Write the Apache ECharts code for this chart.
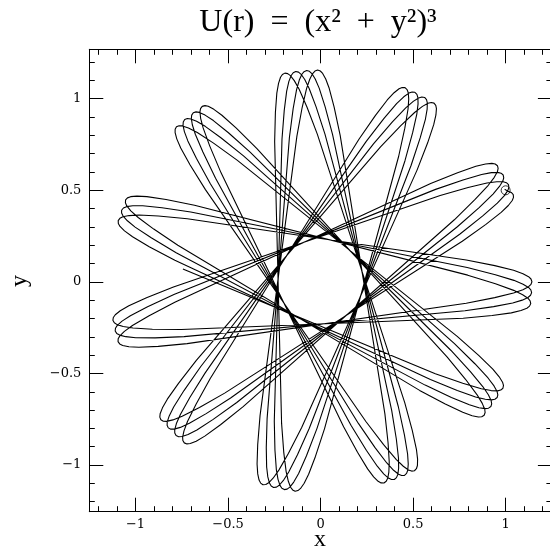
<!DOCTYPE html>
<html><head><meta charset="utf-8">
<script src="https://cdn.jsdelivr.net/npm/echarts@6/dist/echarts.min.js"></script>
<style>html,body{margin:0;padding:0;background:#fff}#c{width:550px;height:551px}</style>
</head><body><div id="c"></div>
<script>
// Apex (turning point) angles of the orbit, degrees, in the order they are visited
const apexAngle = [329.63, 133.00, 296.36, 99.73, 263.09, 66.46, 229.83, 33.19, 196.56, 359.92, 163.29,
                   326.66, 130.02, 293.39, 96.75, 260.12, 63.49, 226.85, 30.22, 193.58, 356.95, 160.32,
                   323.68, 127.05, 290.41, 93.78, 257.15, 60.51, 223.88, 27.24, 190.61, 353.98, 157.34,
                   320.71, 124.07, 287.44, 90.81, 254.17, 57.54, 220.90, 24.27];
// Shape of a petal tip: radius and angular offset from the apex direction (degrees)
const capRadius = [0.80, 0.95, 1.05, 1.10, 1.13, 1.143, 1.148];
const capOffset = [8.45, 5.25, 3.36, 2.26, 1.38, 0.73, 0];
// First and last points of the trajectory [radius, angle]
const startPoint = [0.751, 174.9];
const endPoint = [1.118, 26.57];
// Position marker [x, y]
const markerPoint = [1.0, 0.5];
// Ticks
const xMajorTicks = [-1, -0.5, 0, 0.5, 1];
const xMinorTicks = [-1.2,-1.1,-0.9,-0.8,-0.7,-0.6,-0.4,-0.3,-0.2,-0.1,0.1,0.2,0.3,0.4,0.6,0.7,0.8,0.9,1.1,1.2];
const yMajorTicks = [-1, -0.5, 0, 0.5, 1];
const yMinorTicks = [-1.2,-1.1,-0.9,-0.8,-0.7,-0.6,-0.4,-0.3,-0.2,-0.1,0.1,0.2,0.3,0.4,0.6,0.7,0.8,0.9,1.1,1.2];

function norm(a){ return ((a % 360) + 360) % 360; }
const path = [startPoint];
const n = capRadius.length;
apexAngle.forEach(function(t, k){
  for (let i = 0; i < n; i++) path.push([capRadius[i], norm(t - capOffset[i])]);
  const last = (k === apexAngle.length - 1);
  // the final petal is left at the end point, just past its apex
  const stop = last ? n - 3 : 0;
  for (let i = n - 2; i >= stop; i--) path.push([capRadius[i], norm(t + capOffset[i])]);
});
path.push(endPoint);

const fmt = function(v){ return v < 0 ? '\u2212' + Math.abs(v) : String(v); };
const black = {color:'#000', width:1};
const labelFont = {fontFamily:'DejaVu Serif', fontSize:13, color:'#000'};

function xAx(pos, ticks, len, line, labels){
  return {gridIndex:0, type:'value', min:-1.25, max:1.25, position:pos,
    axisLine:{show:line, onZero:false, lineStyle:black},
    axisTick:{show:true, inside:true, length:len, customValues:ticks, lineStyle:black},
    axisLabel:labels ? Object.assign({show:true, customValues:ticks, formatter:fmt, margin:6}, labelFont) : {show:false},
    splitLine:{show:false}};
}
function yAx(pos, ticks, len, line, labels){
  return {gridIndex:0, type:'value', min:-1.255, max:1.27, position:pos,
    axisLine:{show:line, onZero:false, lineStyle:black},
    axisTick:{show:true, inside:true, length:len, customValues:ticks, lineStyle:black},
    axisLabel:labels ? Object.assign({show:true, customValues:ticks, formatter:fmt, margin:8}, labelFont) : {show:false},
    splitLine:{show:false}};
}

const chart = echarts.init(document.getElementById('c'), null, {renderer:'canvas'});
chart.setOption({
  animation:false,
  backgroundColor:'#fff',
  grid:[{left:89.3, top:49.3, width:462.6, height:462.4, containLabel:false, outerBoundsMode:'none'}],
  xAxis:[
    xAx('bottom', xMajorTicks, 14, true, true),
    xAx('bottom', xMinorTicks, 5.5, false, false),
    xAx('top', xMajorTicks, 14, true, false),
    xAx('top', xMinorTicks, 5.5, false, false)
  ],
  yAxis:[
    yAx('left', yMajorTicks, 14, true, true),
    yAx('left', yMinorTicks, 5.5, false, false),
    yAx('right', yMajorTicks, 14, true, false),
    yAx('right', yMinorTicks, 5.5, false, false)
  ],
  polar:{center:[320.6, 281.4], radius:230.1},
  radiusAxis:{polarIndex:0, type:'value', min:0, max:1.25, show:false},
  angleAxis:{polarIndex:0, type:'value', min:0, max:360, startAngle:0, clockwise:false, show:false},
  graphic:[
    {type:'text', x:318, y:23, style:{text:'U(r)  =  (x\u00B2  +  y\u00B2)\u00B3', font:'32px "Liberation Serif"', fill:'#000', textAlign:'center', textVerticalAlign:'middle'}},
    {type:'text', x:320, y:540, style:{text:'x', font:'24px "Liberation Serif"', fill:'#000', textAlign:'center', textVerticalAlign:'middle'}},
    {type:'text', x:20, y:281, rotation:Math.PI/2, style:{text:'y', font:'24px "Liberation Serif"', fill:'#000', textAlign:'center', textVerticalAlign:'middle'}}
  ],
  series:[
    {type:'line', coordinateSystem:'polar', polarIndex:0, data:path, showSymbol:false, symbol:'none',
     lineStyle:{color:'#000', width:1.1}, silent:true},
    {type:'scatter', xAxisIndex:0, yAxisIndex:0, data:[markerPoint], symbol:'circle', symbolSize:9,
     itemStyle:{color:'rgba(0,0,0,0)', borderColor:'#000', borderWidth:1}, silent:true}
  ]
});
</script></body></html>
